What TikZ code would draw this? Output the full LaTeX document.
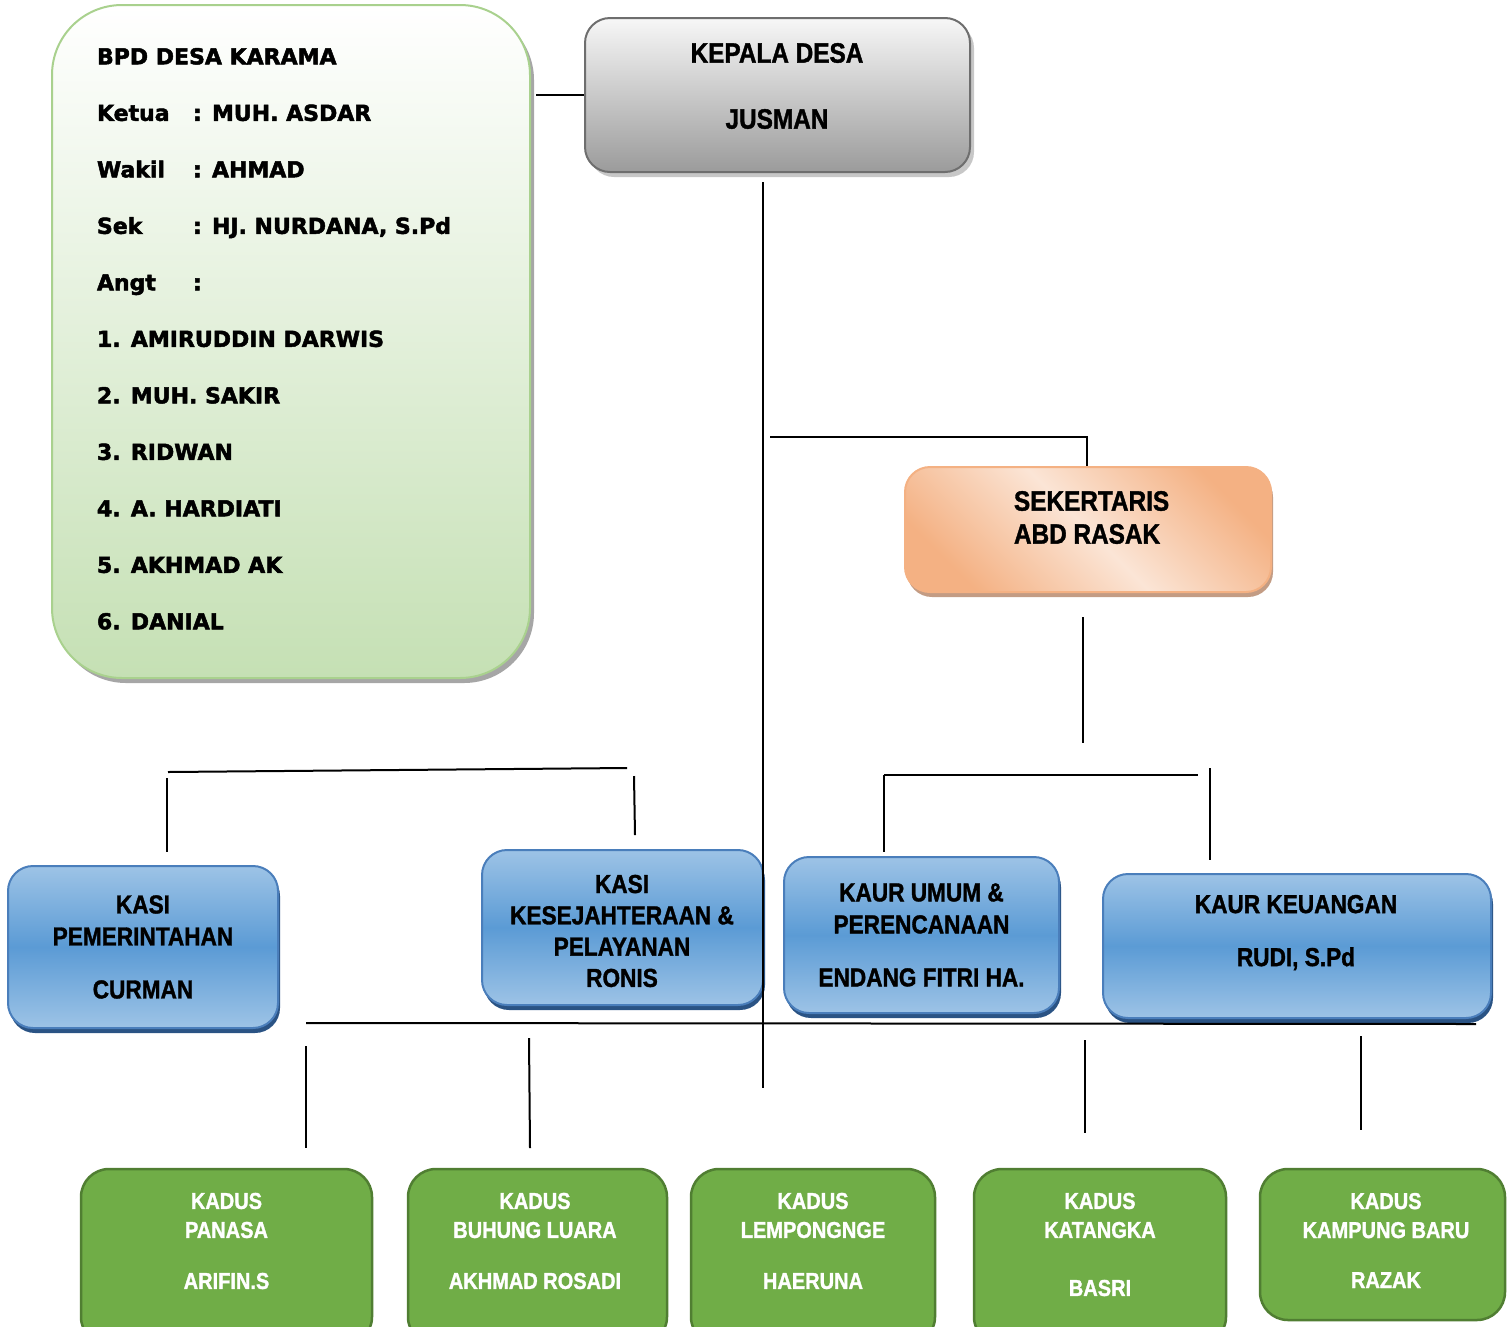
\documentclass[tikz,border=0pt]{standalone}
\usepackage{fontspec}
\setmainfont{Liberation Sans}
\newfontfamily\narrowfont[FakeStretch=0.87, BoldFeatures={FakeBold=1.3}]{Liberation Sans}
\newfontfamily\widefont[BoldFeatures={FakeBold=2.2}]{DejaVu Sans}
\usepackage{tikz}
\usetikzlibrary{shadows}
\usepackage{xcolor}

\definecolor{bpdline}{HTML}{A9D18E}
\definecolor{bpdfill}{HTML}{C5E0B4}
\definecolor{kdline}{HTML}{6E6E6E}
\definecolor{kdtop}{HTML}{F7F7F7}
\definecolor{kdbot}{HTML}{9B9B9B}
\definecolor{sekdark}{HTML}{F4B183}
\definecolor{seklight}{HTML}{FBE5D6}
\definecolor{sekshadow}{HTML}{C39C84}
\definecolor{bluelight}{HTML}{9DC3E6}
\definecolor{bluemid}{HTML}{5B9BD5}
\definecolor{blueline}{HTML}{4A7EBB}
\definecolor{blueshadow}{HTML}{2A5384}
\definecolor{kdsfill}{HTML}{70AD47}
\definecolor{kdsline}{HTML}{507E32}

\begin{document}
\begin{tikzpicture}[
    x=1pt, y=-1pt,
    line width=2pt,
    orgbox/.style={
      draw,
      rounded corners=25pt,
      line width=2pt,
      inner sep=0pt,
      align=center
    },
    kasibox/.style={
      orgbox,
      draw=blueline,
      top color=bluelight, bottom color=bluelight, middle color=bluemid,
      general shadow={fill=blueshadow, shadow xshift=2pt, shadow yshift=-5pt},
      font=\narrowfont\bfseries\fontsize{26}{32}\selectfont
    },
    kadusbox/.style={
      orgbox,
      rounded corners=28pt,
      line width=2.5pt,
      draw=kdsline,
      fill=kdsfill
    },
    kadustext/.style={
      align=center,
      text=white,
      inner sep=0pt,
      font=\narrowfont\bfseries\fontsize{23}{29}\selectfont
    }
  ]

    \useasboundingbox (0,0) rectangle (1507,1326);
    \clip (0,0) rectangle (1507,1326);

    % BPD
    \node[orgbox, rounded corners=70pt, draw=bpdline,
      top color=white, bottom color=bpdfill,
      general shadow={fill=black!35, shadow xshift=4pt, shadow yshift=-5pt},
      minimum width=478pt, minimum height=673pt] (bpd) at (291,341.5) {};
    \node[anchor=north west, align=left, inner sep=0pt,
      font=\widefont\bfseries\fontsize{22}{56.5}\selectfont] (bpdtext) at (96,47)
      {BPD DESA KARAMA\\
       \makebox[96pt][l]{Ketua}: MUH. ASDAR\\
       \makebox[96pt][l]{Wakil}: AHMAD\\
       \makebox[96pt][l]{Sek}: HJ. NURDANA, S.Pd\\
       \makebox[96pt][l]{Angt}:\\
       1. AMIRUDDIN DARWIS\\
       2. MUH. SAKIR\\
       3. RIDWAN\\
       4. A. HARDIATI\\
       5. AKHMAD AK\\
       6. DANIAL};

    % Kepala desa
    \node[orgbox, draw=kdline, top color=kdtop, bottom color=kdbot,
      general shadow={fill=black!22, shadow xshift=4pt, shadow yshift=-5pt},
      minimum width=385pt, minimum height=154pt] (kepala) at (777.5,95) {};
    \node[align=center, inner sep=0pt,
      font=\narrowfont\bfseries\fontsize{28}{28}\selectfont] (kepalatext) at (777,86)
      {KEPALA DESA\\[38pt]JUSMAN};

    % Sekertaris
    \node[orgbox, draw=sekdark,
      top color=sekdark, bottom color=sekdark, middle color=seklight,
      shading angle=-45,
      general shadow={fill=sekshadow, shadow xshift=2pt, shadow yshift=-5pt},
      minimum width=366pt, minimum height=125pt] (sek) at (1088,529.5) {};
    \node[anchor=west, align=left, inner sep=0pt,
      font=\narrowfont\bfseries\fontsize{28}{33}\selectfont] (sektext) at (1013,517.5)
      {SEKERTARIS\\ABD RASAK};

    % Kasi dan kaur
    \node[kasibox, minimum width=270pt, minimum height=162pt] (kasipem) at (143,947)
      {KASI\\PEMERINTAHAN\\[21pt]CURMAN};
    \node[kasibox, minimum width=281pt, minimum height=155pt] (kasikes) at (622.5,927.5) {};
    \node[align=center, inner sep=0pt,
      font=\narrowfont\bfseries\fontsize{26}{31.3}\selectfont] (kasikestext) at (622,931)
      {KASI\\KESEJAHTERAAN \&\\PELAYANAN\\RONIS};
    \node[kasibox, minimum width=275pt, minimum height=156pt] (kaurumum) at (921.5,935)
      {KAUR UMUM \&\\PERENCANAAN\\[21pt]ENDANG FITRI HA.};
    \node[kasibox, minimum width=388pt, minimum height=144pt] (kaurkeu) at (1297,946) {};
    \node[align=center, inner sep=0pt,
      font=\narrowfont\bfseries\fontsize{26}{32}\selectfont] (kaurkeutext) at (1296,932.5)
      {KAUR KEUANGAN\\[21pt]RUDI, S.Pd};

    % Kadus
    \node[kadusbox, minimum width=291pt, minimum height=176pt] (panasa) at (226.5,1257) {};
    \node[kadustext] (panasatext) at (226.5,1241) {KADUS\\PANASA\\[22pt]ARIFIN.S};

    \node[kadusbox, minimum width=259pt, minimum height=176pt] (buhung) at (537.5,1257) {};
    \node[kadustext] (buhungtext) at (535,1241) {KADUS\\BUHUNG LUARA\\[22pt]AKHMAD ROSADI};

    \node[kadusbox, minimum width=244pt, minimum height=176pt] (lempong) at (813,1257) {};
    \node[kadustext] (lempongtext) at (813,1241) {KADUS\\LEMPONGNGE\\[22pt]HAERUNA};

    \node[kadusbox, minimum width=252pt, minimum height=176pt] (katangka) at (1100,1257) {};
    \node[kadustext] (katangkatext) at (1100,1244.5) {KADUS\\KATANGKA\\[29pt]BASRI};

    \node[kadusbox, minimum width=245pt, minimum height=151pt] (kampung) at (1382.5,1244.5) {};
    \node[kadustext] (kampungtext) at (1386,1240.5) {KADUS\\KAMPUNG BARU\\[21pt]RAZAK};

    % Garis
    \coordinate (bpdR) at (536,95);
    \coordinate (spineT) at (763,182);
    \coordinate (spineB) at (763,1088);
    \coordinate (sekL) at (770,437);
    \coordinate (sekT) at (1087,437);
    \coordinate (sekB1) at (1083,617);
    \coordinate (sekB2) at (1083,743);
    \coordinate (kaurL) at (884,775);
    \coordinate (kaurR) at (1198,775);
    \coordinate (kaurUm) at (884,852);
    \coordinate (kaurK1) at (1210,768);
    \coordinate (kaurK2) at (1210,860);
    \coordinate (kasiL) at (168,772);
    \coordinate (kasiR) at (627,768);
    \coordinate (kasiP1) at (167,778);
    \coordinate (kasiP2) at (167,852);
    \coordinate (kasiK1) at (634,776);
    \coordinate (kasiK2) at (635,835);
    \coordinate (busL) at (306,1023);
    \coordinate (busR) at (1476,1024);
    \coordinate (panasaA) at (306,1046);
    \coordinate (panasaB) at (306,1148);
    \coordinate (buhungA) at (529,1038);
    \coordinate (buhungB) at (530,1148);
    \coordinate (katangkaA) at (1085,1040);
    \coordinate (katangkaB) at (1085,1133);
    \coordinate (kampungA) at (1361,1036);
    \coordinate (kampungB) at (1361,1130);

    \draw (bpdR) -- (kepala.west);
    \draw (spineT) -- (spineB);
    \draw (sekL) -- (sekT) -- (sek.north -| sekT);
    \draw (sekB1) -- (sekB2);
    \draw (kaurL) -- (kaurR);
    \draw (kaurL) -- (kaurUm);
    \draw (kaurK1) -- (kaurK2);
    \draw (kasiL) -- (kasiR);
    \draw (kasiP1) -- (kasiP2);
    \draw (kasiK1) -- (kasiK2);
    \draw (busL) -- (busR);
    \draw (panasaA) -- (panasaB);
    \draw (buhungA) -- (buhungB);
    \draw (katangkaA) -- (katangkaB);
    \draw (kampungA) -- (kampungB);

\end{tikzpicture}
\end{document}
